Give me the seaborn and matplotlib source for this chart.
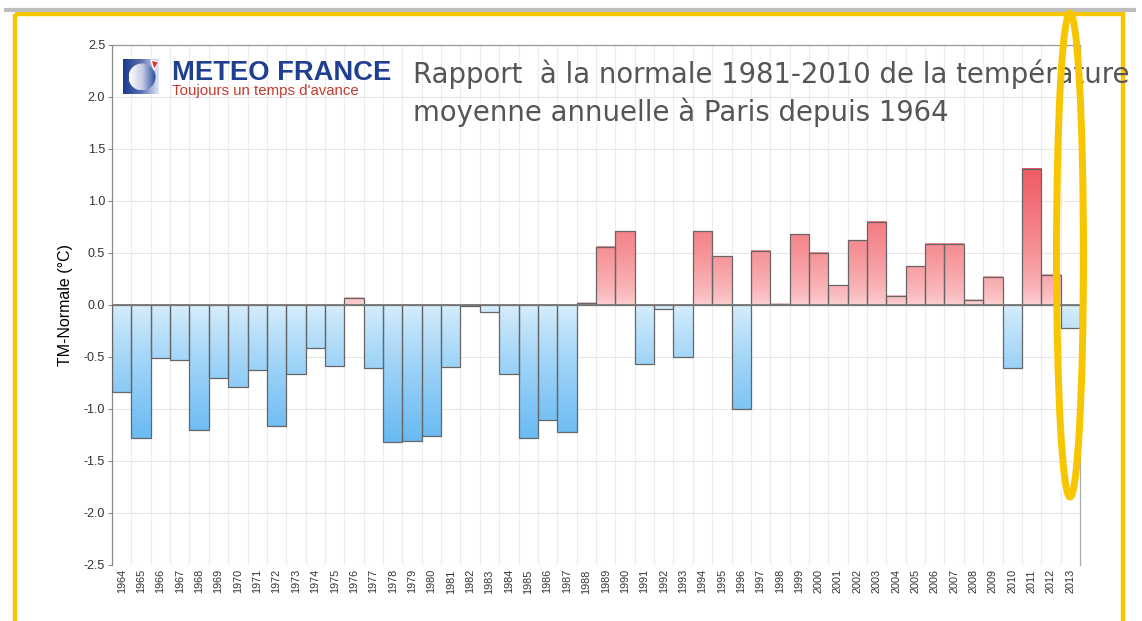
import numpy as np
import pandas as pd
import matplotlib
matplotlib.use('Agg')
import matplotlib.pyplot as plt
from matplotlib.colors import LinearSegmentedColormap
from matplotlib.patches import Rectangle, Ellipse, Circle, Polygon
import seaborn as sns

# donnees : ecart a la normale 1981-2010 (TM, Paris)
annees = [str(a) for a in range(1964, 2014)]
ecarts = [-0.84, -1.28, -0.51, -0.53, -1.20, -0.70, -0.79, -0.63, -1.16, -0.66,
          -0.41, -0.59, 0.07, -0.61, -1.32, -1.31, -1.26, -0.60, -0.01, -0.07,
          -0.66, -1.28, -1.11, -1.22, 0.02, 0.56, 0.71, -0.57, -0.04, -0.50,
          0.71, 0.47, -1.00, 0.52, 0.01, 0.68, 0.50, 0.19, 0.62, 0.80,
          0.09, 0.37, 0.59, 0.59, 0.05, 0.27, -0.61, 1.31, 0.29, -0.22]
titre = "Rapport  à la normale 1981-2010 de la température\nmoyenne annuelle à Paris depuis 1964"

sns.set_style('white')
plt.rcParams['font.family'] = ['Liberation Sans', 'DejaVu Sans']

fig = plt.figure(figsize=(11.42, 6.21), dpi=100)
ax = fig.add_axes([0.0981, 0.0902, 0.8476, 0.8374])

df = pd.DataFrame({'annee': annees, 'ecart': ecarts})
sns.barplot(data=df, x='annee', y='ecart', ax=ax, width=1.0, color='white',
            saturation=1, edgecolor='#666666', linewidth=0.9, zorder=3)

#degrades de couleur (rouge au dessus de 0, bleu en dessous)
cmap_chaud = LinearSegmentedColormap.from_list('chaud', ['#fdd3d5', '#ef5a62'])
cmap_froid = LinearSegmentedColormap.from_list('froid', ['#daeffc', '#66b9f3'])
vmax_abs = 1.35
for p in ax.patches:
    x0, w = p.get_x(), p.get_width()
    y0, h = p.get_y(), p.get_height()
    bas, haut = min(y0, y0 + h), max(y0, y0 + h)
    if haut - bas <= 0:
        continue
    vals = np.linspace(bas, haut, 80)[:, None]
    t = np.clip(np.abs(vals) / vmax_abs, 0, 1)
    if h > 0:
        img = cmap_chaud(t ** 0.65)
    else:
        img = cmap_froid(t ** 0.8)
    ax.imshow(img, extent=[x0, x0 + w, bas, haut], origin='lower',
              aspect='auto', zorder=2, interpolation='bilinear')
    p.set_facecolor('none')

ax.axhline(0, color='#777777', lw=1.3, zorder=4)

ax.set_xlim(-0.5, len(annees) - 0.5)
ax.set_ylim(-2.5, 2.5)
ax.set_yticks(np.arange(-2.5, 2.51, 0.5))
ax.set_yticklabels(['%.1f' % v for v in np.arange(-2.5, 2.51, 0.5)],
                   fontsize=9, color='#333333')
ax.set_xticks(np.arange(len(annees)))
ax.set_xticklabels(annees, rotation=90, fontsize=7.8, color='#333333')
ax.set_xticks(np.arange(0.5, len(annees) - 0.5, 1), minor=True)
ax.tick_params(axis='x', which='major', length=0, pad=3)
ax.tick_params(axis='x', which='minor', length=3, color='#cccccc')
ax.tick_params(axis='y', length=3, color='#888888', pad=2, left=True)

#grille
ax.set_axisbelow(True)
ax.yaxis.grid(True, color='#e6e6e6', lw=0.8)
ax.xaxis.grid(True, which='minor', color='#ececec', lw=0.8)
ax.xaxis.grid(False, which='major')

ax.set_xlabel('')
ax.set_ylabel('TM-Normale (°C)', fontsize=11.5, color='black', labelpad=8)

for s, c in [('left', '#888888'), ('top', '#999999'), ('right', '#aaaaaa')]:
    ax.spines[s].set_visible(True)
    ax.spines[s].set_color(c)
    ax.spines[s].set_linewidth(0.9)
ax.spines['bottom'].set_visible(False)

# calque de dessus : cadre, logo, titre, ellipse
ov = fig.add_axes([0, 0, 1, 1])
ov.set_xlim(0, 1142)
ov.set_ylim(621, 0)
ov.axis('off')
ov.patch.set_alpha(0)

ov.plot([4, 1136], [10, 10], color='#bdbdbd', lw=3, solid_capstyle='butt')
ov.add_patch(Rectangle((14.5, 14), 1108, 700, fill=False, ec='#f7c600', lw=3.2))

#logo
grad = np.repeat(np.linspace(0, 1, 60)[None, :], 60, axis=0)
cmap_fond = LinearSegmentedColormap.from_list('fond', ['#1b3a8e', '#5a6fb0', '#e2e6f3'])
ov.imshow(cmap_fond(grad), extent=[123, 159, 94, 59], aspect='auto', zorder=2)
cercle = Circle((142, 77), 13.5, fc='none', ec='none', zorder=3)
ov.add_patch(cercle)
cmap_rond = LinearSegmentedColormap.from_list('rond', ['#ffffff', '#c5cbe6', '#2b4a9e'])
im_rond = ov.imshow(cmap_rond(grad), extent=[128.5, 155.5, 90.5, 63.5],
                    aspect='auto', zorder=3)
im_rond.set_clip_path(cercle)
ov.add_patch(Polygon([[151, 60], [159, 62], [154, 70]], closed=True, fc='#e0322c', zorder=4))
ov.set_xlim(0, 1142)
ov.set_ylim(621, 0)
ov.text(172, 80, 'METEO FRANCE', fontsize=19.7, fontweight='bold', color='#1f3f8f',
        va='baseline')
ov.text(172, 95, "Toujours un temps d'avance", fontsize=10.8, color='#c33a2e',
        va='baseline')

ov.text(413, 121, titre, fontsize=19.8, color='#555555', va='baseline',
        linespacing=1.35, family=['DejaVu Sans'])

ov.add_patch(Ellipse((1070, 255), 27, 484, fill=False, ec='#f7c600', lw=5, zorder=10))

fig.savefig('out.png', dpi=100)
